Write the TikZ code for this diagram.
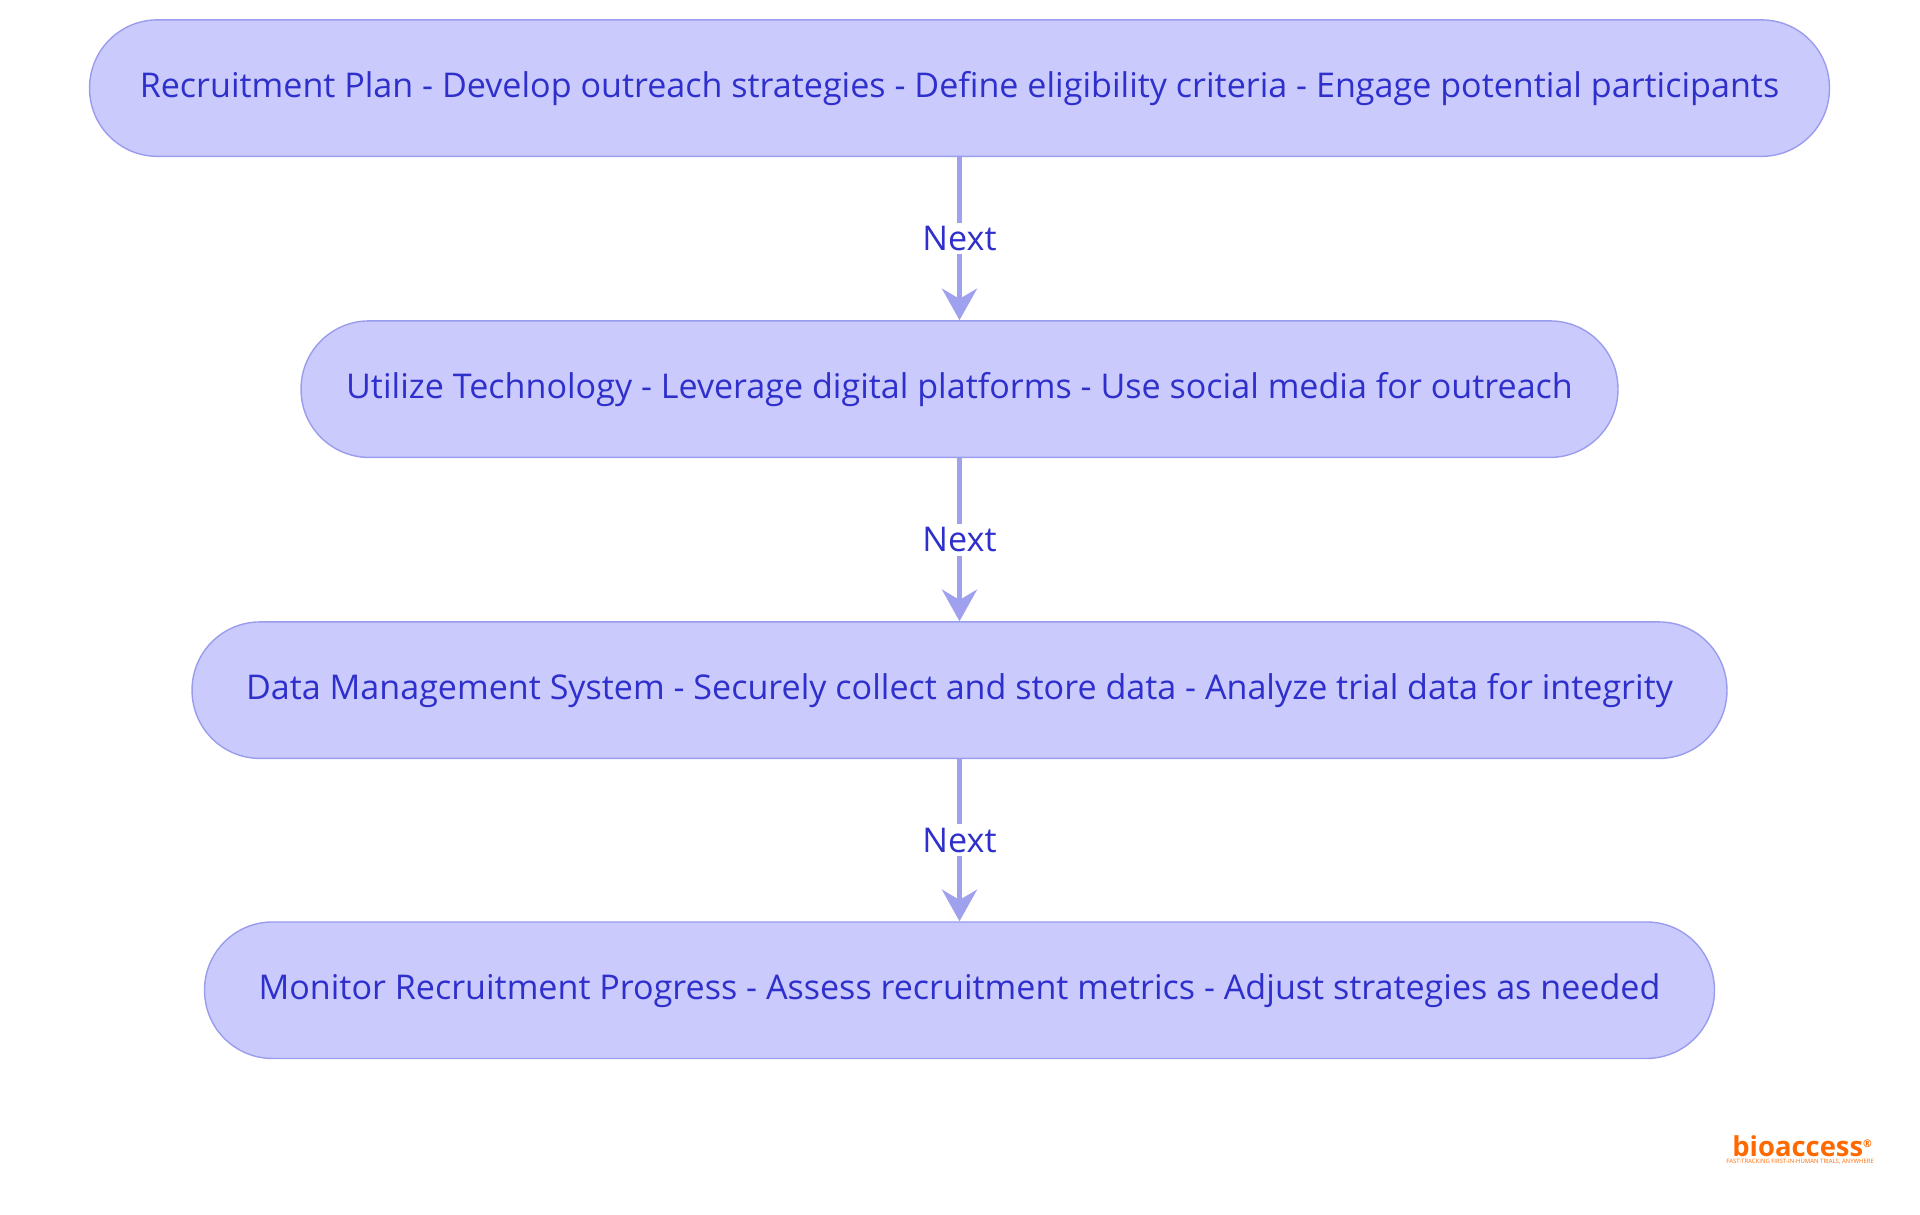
\documentclass[tikz,border=0pt]{standalone}
\usepackage{fontspec}
\setmainfont{Open Sans}
\usetikzlibrary{arrows.meta}
\definecolor{boxfill}{HTML}{CACBFC}
\definecolor{boxline}{HTML}{9A9CEE}
\definecolor{txt}{HTML}{2F2FCC}
\definecolor{arr}{HTML}{9FA1EE}
\definecolor{logo}{HTML}{FF6A00}
\tikzset{
 stepbox/.style={draw=boxline, line width=0.4pt, fill=boxfill, rounded corners=0.68cm, minimum height=1.365cm, text=txt, font=\fontsize{9.7}{11}\selectfont, inner sep=0pt},
 conn/.style={draw=arr, line width=1.2pt, -{Stealth[length=9pt,width=10pt]}},
 lbl/.style={fill=white, text=txt, font=\fontsize{9.7}{11}\selectfont, inner sep=1pt}
}
\begin{document}
\begin{tikzpicture}[x=0.0099cm,y=-0.0099cm]
\useasboundingbox (0,0) rectangle (1939,1227);
\node[stepbox, minimum width=17.40cm] (a) at (969,89) {Recruitment Plan - Develop outreach strategies - Define eligibility criteria - Engage potential participants};
\node[stepbox, minimum width=13.17cm] (b) at (969,393) {Utilize Technology - Leverage digital platforms - Use social media for outreach};
\node[stepbox, minimum width=15.35cm] (c) at (969,697) {Data Management System - Securely collect and store data - Analyze trial data for integrity};
\node[stepbox, minimum width=15.10cm] (d) at (969,1000) {Monitor Recruitment Progress - Assess recruitment metrics - Adjust strategies as needed};
\draw[conn] (a) -- node[lbl]{Next} (b);
\draw[conn] (b) -- node[lbl]{Next} (c);
\draw[conn] (c) -- node[lbl]{Next} (d);
\node[text=logo, font=\bfseries\fontsize{7.8}{8}\selectfont, inner sep=0pt] (logo) at (1820,1158) {bioaccess\raisebox{0.6ex}{\fontsize{3}{3}\selectfont ®}};
\node[text=logo, font=\fontsize{1.7}{2}\selectfont, inner sep=0pt] (tag) at (1818,1173) {FAST-TRACKING FIRST-IN-HUMAN TRIALS, ANYWHERE};
\end{tikzpicture}
\end{document}
